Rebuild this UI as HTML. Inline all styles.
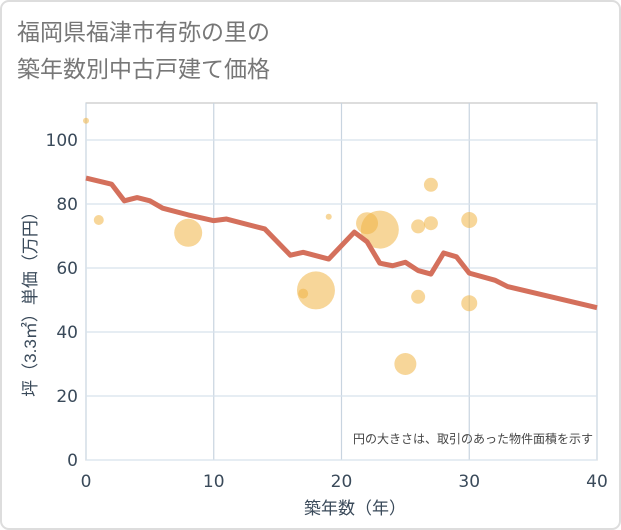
<!DOCTYPE html>
<html><head><meta charset="utf-8"><style>
body{margin:0;background:#fff;}
svg{display:block;font-family:"Liberation Sans","Noto Sans CJK JP",sans-serif;}
.tick{font-family:"DejaVu Sans","Liberation Sans",sans-serif;}
</style></head><body>
<svg id="chart" width="621" height="530">
<rect x="1" y="1" width="619" height="528" rx="8" fill="#fff" stroke="#ddd" stroke-width="2"/>
<text x="17" y="40" font-size="23" fill="#777">福岡県福津市有弥の里の</text>
<text x="17" y="77" font-size="23" fill="#777">築年数別中古戸建て価格</text>
<g id="grid"></g>
<g id="bubbles"></g>
<g id="line"></g>
<g id="axes"></g>
<text x="593" y="443" font-size="12" fill="#444" text-anchor="end">円の大きさは、取引のあった物件面積を示す</text>
<text x="355" y="514" font-size="17" fill="#3a4a5a" text-anchor="middle">築年数（年）</text>
<text transform="translate(36,300) rotate(-90)" font-size="17" fill="#3a4a5a" text-anchor="middle">坪（3.3㎡）単価（万円）</text>
</svg>
<script>
const xTicks=[0,10,20,30,40];
const yTicks=[0,20,40,60,80,100];
const lineYears=[0,2,3,4,5,6,8,10,11,14,16,17,19,21,22,23,24,25,26,27,28,29,30,32,33,40];
const linePrices=[88.1,86.2,81,82,81,78.7,76.6,74.8,75.3,72.2,64,64.9,62.8,71.2,68.2,61.5,60.7,61.8,59.2,58.1,64.7,63.5,58.4,56.2,54.2,47.6];
const bubbleYears=[0,1,8,17,18,19,22,23,25,26,26,27,27,30,30];
const bubblePrices=[106,75,71,52,53,76,74,72,30,73,51,86,74,75,49];
const bubbleSizes=[3,5,14,5,19,3,11,19,11,7,7,7,7,8,8];
const NS="http://www.w3.org/2000/svg";
const X0=86,X1=597,Y0=460,Y1=103;
const xs=v=>X0+(v/40)*(X1-X0);
const ys=v=>Y0-v*3.2;
function mk(tag,attrs,parent){const e=document.createElementNS(NS,tag);for(const k in attrs)e.setAttribute(k,attrs[k]);parent.appendChild(e);return e;}
const grid=document.getElementById('grid'),axes=document.getElementById('axes');
mk('rect',{x:X0,y:Y1,width:X1-X0,height:Y0-Y1,fill:'none',stroke:'#bbb'},grid);
xTicks.forEach(t=>{
 const l=mk('line',{x1:xs(t),x2:xs(t),y1:Y1,y2:Y0,stroke:'#c8d4e0','stroke-width':1.2},grid);
 
 
 const tx=mk('text',{x:xs(t),y:487,'font-size':17,fill:'#3a4a5a','text-anchor':'middle','class':'tick'},axes);
 tx.textContent=t;
 
 
});
yTicks.forEach(t=>{
 const l=mk('line',{x1:X0,x2:X1,y1:ys(t),y2:ys(t),stroke:'#d8e2ec','stroke-width':1.2},grid);
 
 
 const tx=mk('text',{x:78,y:ys(t)+6,'font-size':17,fill:'#3a4a5a','text-anchor':'end','class':'tick'},axes);
 tx.textContent=t;
 
 
});
const bg=document.getElementById('bubbles');
bubbleYears.forEach((v,i)=>{
 const c=mk('circle',{cx:xs(v),cy:ys(bubblePrices[i]),r:bubbleSizes[i],fill:'#f0b445','fill-opacity':0.55},bg);
 
 
});
const pts=lineYears.map((v,i)=>xs(v)+','+ys(linePrices[i])).join(' ');
const pl=mk('polyline',{points:pts,fill:'none',stroke:'#d4705c','stroke-width':5,'stroke-linejoin':'round'},document.getElementById('line'));


</script>
</body></html>
